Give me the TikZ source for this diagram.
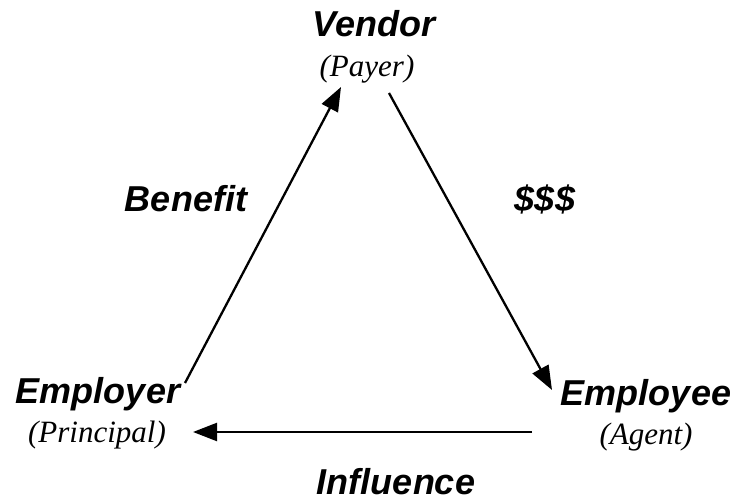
\documentclass[tikz,border=0pt]{standalone}
\usepackage{fontspec}
\setmainfont{Liberation Serif}
\setsansfont{Liberation Sans}
\usetikzlibrary{arrows.meta}
\begin{document}
\begin{tikzpicture}[x=1pt,y=-1pt,
  party/.style={font=\sffamily\bfseries\itshape\fontsize{36}{40}\selectfont, anchor=base, inner sep=0pt},
  role/.style={font=\rmfamily\itshape\fontsize{31}{34}\selectfont, anchor=base, inner sep=0pt},
  flowlabel/.style={font=\sffamily\bfseries\itshape\fontsize{36}{40}\selectfont, anchor=base, inner sep=0pt},
  flow/.style={line width=2.3pt, -{Triangle[length=24pt,width=18pt]}}]
\useasboundingbox (0,0) rectangle (736,502);
% parties and their roles
\node[party] (vendor)   at (374,37)  {Vendor};
\node[role]  (payer)    at (367,77)  {(Payer)};
\node[party] (employer) at (98,403)  {Employer};
\node[role]  (principal) at (97,442) {(Principal)};
\node[party] (employee) at (646,405) {Employee};
\node[role]  (agent)    at (646,444) {(Agent)};
% what flows along each side
\node[flowlabel] (benefit)   at (186,212) {Benefit};
\node[flowlabel] (money)     at (545,212) {\$\$\$};
\node[flowlabel] (influence) at (396,494) {Influence};
% connector end points beside the parties
\coordinate (employerOut) at (185,383);
\coordinate (vendorIn)    at (341,87);
\coordinate (vendorOut)   at (389,93);
\coordinate (employeeIn)  at (552,390);
\coordinate (employeeOut) at (532,432);
\coordinate (employerIn)  at (193,432);
\draw[flow] (employerOut) -- (vendorIn);
\draw[flow] (vendorOut) -- (employeeIn);
\draw[flow] (employeeOut) -- (employerIn);
\end{tikzpicture}
\end{document}
